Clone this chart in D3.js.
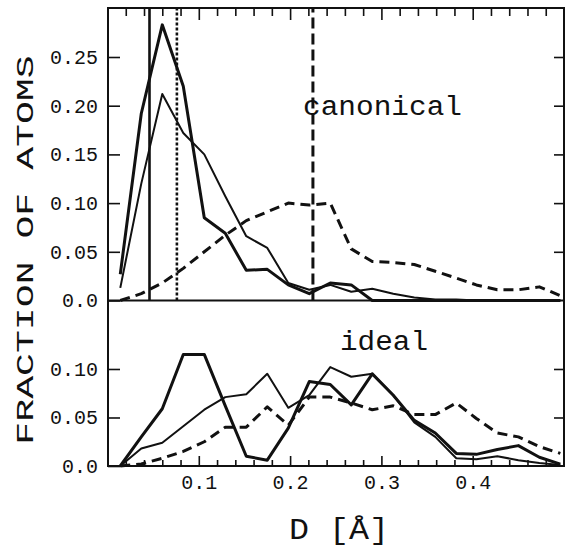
<!DOCTYPE html>
<html>
<head>
<meta charset="utf-8">
<script src="https://cdn.jsdelivr.net/npm/d3@7"></script>
<style>
  body { margin: 0; background: #fff; }
  text { font-family: "Liberation Mono", "DejaVu Sans Mono", monospace; fill: #111; }
  .tick line { stroke: #111; stroke-width: 1.6; }
</style>
</head>
<body>
<div id="chart"></div>
<script>
// bin centres along D [Å]
const D = [0.014, 0.037, 0.060, 0.083, 0.106, 0.129, 0.152, 0.175, 0.198, 0.221, 0.244,
           0.267, 0.290, 0.313, 0.336, 0.359, 0.382, 0.404, 0.427, 0.450, 0.473, 0.496];

// canonical panel
const canonThick  = [0.027, 0.192, 0.283, 0.220, 0.085, 0.069, 0.031, 0.032, 0.016, 0.007, 0.018,
                     0.016, 0.000, 0.000, 0.000, 0.000, 0.000, 0.000, 0.000, 0.000, 0.000, 0.000];
const canonThin   = [0.013, 0.120, 0.212, 0.172, 0.150, 0.107, 0.066, 0.054, 0.018, 0.011, 0.016,
                     0.009, 0.012, 0.007, 0.003, 0.001, 0.001, 0.000, 0.000, 0.000, 0.000, 0.000];
const canonDashed = [0.000, 0.007, 0.018, 0.033, 0.050, 0.067, 0.082, 0.091, 0.100, 0.098, 0.100,
                     0.053, 0.040, 0.039, 0.037, 0.030, 0.023, 0.016, 0.011, 0.011, 0.014, 0.005];
// vertical markers in the canonical panel: solid, dotted, dashed
const markers = [0.046, 0.076, 0.225];

// ideal panel
const idealThick  = [0.000, 0.030, 0.059, 0.115, 0.115, 0.062, 0.010, 0.006, 0.039, 0.087, 0.084,
                     0.063, 0.095, 0.073, 0.047, 0.034, 0.013, 0.012, 0.017, 0.021, 0.009, 0.002];
const idealThin   = [0.000, 0.018, 0.024, 0.041, 0.058, 0.071, 0.074, 0.095, 0.060, 0.073, 0.102,
                     0.092, 0.095, 0.073, 0.045, 0.030, 0.008, 0.007, 0.010, 0.006, 0.003, 0.001];
const idealDashed = [0.000, 0.002, 0.008, 0.015, 0.025, 0.040, 0.040, 0.061, 0.042, 0.071, 0.071,
                     0.065, 0.058, 0.062, 0.053, 0.053, 0.065, 0.049, 0.034, 0.030, 0.020, 0.013];

const xMajor = [0.1, 0.2, 0.3, 0.4];
const topYTicks = [0.0, 0.05, 0.10, 0.15, 0.20, 0.25];
const botYTicks = [0.0, 0.05, 0.10];

const W = 567, H = 549;
const L = 108, R = 564, T = 8, MID = 300.5, B = 466;

const svg = d3.select("#chart").append("svg").attr("width", W).attr("height", H);
svg.append("rect").attr("width", W).attr("height", H).attr("fill", "#fff");

const x = d3.scaleLinear().domain([0, 0.5]).range([107.5, 564]);
const yTop = d3.scaleLinear().domain([0, 0.30]).range([MID, T + 0.3]);
const yBot = d3.scaleLinear().domain([0, 0.171]).range([B, MID - 0.4]);

const fmtY = d => d === 0 ? "0.0" : d3.format(".2f")(d);
const xMinor = d3.range(0.02, 0.5, 0.02).filter(v => Math.abs(v * 10 - Math.round(v * 10)) > 1e-6);

// x axes (bottom + top), ticks inward
svg.append("g").attr("transform", `translate(0,${B})`)
  .call(d3.axisBottom(x).tickValues(xMinor).tickSize(-6).tickFormat(""));
svg.append("g").attr("transform", `translate(0,${B})`)
  .call(d3.axisBottom(x).tickValues(xMajor).tickSize(-10).tickPadding(9).tickFormat(d3.format(".1f")))
  .selectAll("text").attr("font-size", 20);
svg.append("g").attr("transform", `translate(0,${T})`)
  .call(d3.axisTop(x).tickValues(xMinor).tickSize(-8).tickFormat(""));
svg.append("g").attr("transform", `translate(0,${T})`)
  .call(d3.axisTop(x).tickValues(xMajor).tickSize(-12).tickFormat(""));

// y axes, left with labels, right ticks only
svg.append("g").attr("transform", `translate(${L},0)`)
  .call(d3.axisLeft(yTop).tickValues(topYTicks).tickSize(-12).tickPadding(10).tickFormat(fmtY))
  .selectAll("text").attr("font-size", 20);
svg.append("g").attr("transform", `translate(${L},0)`)
  .call(d3.axisLeft(yBot).tickValues(botYTicks).tickSize(-12).tickPadding(10).tickFormat(fmtY))
  .selectAll("text").attr("font-size", 20);
svg.append("g").attr("transform", `translate(${R},0)`)
  .call(d3.axisRight(yTop).tickValues(topYTicks.slice(1)).tickSize(-10).tickFormat(""));
svg.append("g").attr("transform", `translate(${R},0)`)
  .call(d3.axisRight(yBot).tickValues(botYTicks.slice(1)).tickSize(-10).tickFormat(""));
svg.selectAll(".domain").remove();

// frame + divider
svg.append("rect").attr("x", L).attr("y", T).attr("width", R - L).attr("height", B - T)
  .attr("fill", "none").attr("stroke", "#111").attr("stroke-width", 2);
svg.append("line").attr("x1", L).attr("x2", R).attr("y1", MID).attr("y2", MID)
  .attr("stroke", "#111").attr("stroke-width", 2.2);

// vertical markers
const markerStyle = [
  {w: 2.6, dash: null},
  {w: 2.6, dash: "3,2"},
  {w: 3, dash: "11,5"}
];
svg.append("g").selectAll("line").data(markers).enter().append("line")
  .attr("x1", d => x(d)).attr("x2", d => x(d))
  .attr("y1", yTop(0)).attr("y2", yTop(0.30))
  .attr("stroke", "#111")
  .attr("stroke-width", (d, i) => markerStyle[i].w)
  .attr("stroke-dasharray", (d, i) => markerStyle[i].dash);

function drawSeries(vals, yScale, width, dash) {
  const line = d3.line().x((d, i) => x(D[i])).y(d => yScale(d));
  svg.append("path").datum(vals)
    .attr("d", line)
    .attr("fill", "none")
    .attr("stroke", "#111")
    .attr("stroke-width", width)
    .attr("stroke-linejoin", "round")
    .attr("stroke-dasharray", dash);
}

drawSeries(canonDashed, yTop, 3, "10,6");
drawSeries(canonThin, yTop, 2, null);
drawSeries(canonThick, yTop, 3, null);

drawSeries(idealDashed, yBot, 3, "10,6");
drawSeries(idealThin, yBot, 2, null);
drawSeries(idealThick, yBot, 3, null);

// panel labels
svg.append("text").attr("x", 303).attr("y", 115).attr("font-size", 27)
  .attr("textLength", 159).attr("lengthAdjust", "spacingAndGlyphs").text("canonical");
svg.append("text").attr("x", 340).attr("y", 350).attr("font-size", 27)
  .attr("textLength", 88).attr("lengthAdjust", "spacingAndGlyphs").text("ideal");

// axis titles
svg.append("text").attr("transform", "translate(289,539) scale(1.15,1)")
  .attr("font-size", 29).text("D [Å]");
svg.append("text")
  .attr("transform", "translate(33,250) rotate(-90) scale(1.66,1)")
  .attr("text-anchor", "middle").attr("font-size", 23)
  .text("FRACTION OF ATOMS");
</script>
</body>
</html>
